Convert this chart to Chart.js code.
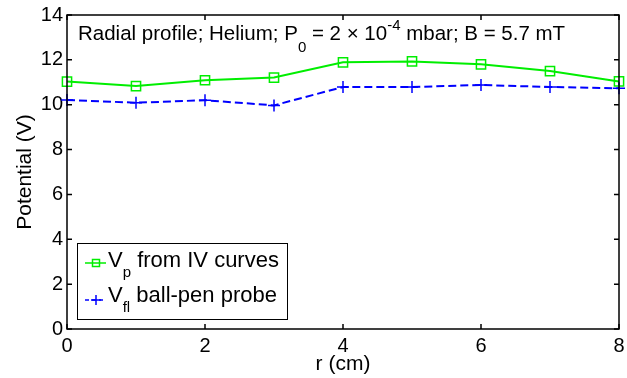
<!DOCTYPE html>
<html><head><meta charset="utf-8">
<script src="https://cdn.jsdelivr.net/npm/chart.js@4/dist/chart.umd.min.js"></script>
<style>html,body{margin:0;padding:0;background:#fff}#wrap{width:627px;height:378px}</style>
</head><body><div id="wrap"><canvas id="c" width="627" height="378"></canvas></div>
<script>
const rValues = [0, 1, 2, 3, 4, 5, 6, 7, 8];
const vpValues = [11.03, 10.83, 11.09, 11.21, 11.89, 11.93, 11.80, 11.50, 11.04];
const vflValues = [10.21, 10.09, 10.20, 9.97, 10.79, 10.79, 10.88, 10.79, 10.73];
const xTicks = [0, 2, 4, 6, 8];
const yTicks = [0, 2, 4, 6, 8, 10, 12, 14];
const FONT = "'Liberation Sans', Arial, sans-serif";

const framePlugin = {
  id: 'frame',
  afterDraw(chart) {
    const ctx = chart.ctx, a = chart.chartArea;
    const xs = chart.scales.x, ys = chart.scales.y;
    ctx.save();
    ctx.strokeStyle = '#000'; ctx.lineWidth = 1.5;
    ctx.strokeRect(a.left, a.top, a.right - a.left, a.bottom - a.top);
    ctx.beginPath();
    const L = 5;
    xTicks.forEach(v => { const p = xs.getPixelForValue(v);
      ctx.moveTo(p, a.bottom); ctx.lineTo(p, a.bottom - L);
      ctx.moveTo(p, a.top); ctx.lineTo(p, a.top + L); });
    yTicks.forEach(v => { const p = ys.getPixelForValue(v);
      ctx.moveTo(a.left, p); ctx.lineTo(a.left + L, p);
      ctx.moveTo(a.right, p); ctx.lineTo(a.right - L, p); });
    ctx.stroke();

    // annotation title
    ctx.fillStyle = '#000';
    ctx.textBaseline = 'alphabetic';
    const big = '20.5px ' + FONT, small = '15px ' + FONT;
    let x = 78; const y = 40;
    const seg = (t, f, dy) => { ctx.font = f; ctx.fillText(t, x, y + dy); x += ctx.measureText(t).width; };
    seg('Radial profile; Helium; P', big, 0);
    seg('0', small, 12);
    seg(' = 2 \u00d7 10', big, 0);
    seg('-4', small, -10);
    seg(' mbar; B = 5.7 mT', big, 0);

    // legend
    const lx = 77, ly = 243, lw = 210, lh = 76;
    ctx.fillStyle = '#fff';
    ctx.fillRect(lx, ly, lw, lh);
    ctx.strokeStyle = '#000'; ctx.lineWidth = 1;
    ctx.strokeRect(lx + 0.5, ly + 0.5, lw, lh);
    const rows = [
      {y: 263, base: 267, color: '#00ee00', dash: [], sub: 'p', text: ' from IV curves', marker: 'sq'},
      {y: 300, base: 302, color: '#0000ff', dash: [4, 3], sub: 'fl', text: ' ball-pen probe', marker: 'plus'}
    ];
    rows.forEach(r => {
      ctx.strokeStyle = r.color; ctx.lineWidth = 1.5; ctx.setLineDash(r.dash);
      ctx.beginPath(); ctx.moveTo(85, r.y); ctx.lineTo(106, r.y); ctx.stroke();
      ctx.setLineDash([]);
      ctx.beginPath();
      if (r.marker === 'sq') { ctx.rect(92.5, r.y - 3.5, 7, 7); }
      else { ctx.moveTo(91, r.y); ctx.lineTo(101, r.y); ctx.moveTo(96, r.y - 5); ctx.lineTo(96, r.y + 5); }
      ctx.stroke();
      ctx.fillStyle = '#000';
      let tx = 108;
      ctx.font = '22px ' + FONT; ctx.fillText('V', tx, r.base); tx += ctx.measureText('V').width;
      ctx.font = '15px ' + FONT; ctx.fillText(r.sub, tx, r.base + 10); tx += ctx.measureText(r.sub).width;
      ctx.font = '22px ' + FONT; ctx.fillText(r.text, tx, r.base);
    });
    ctx.restore();
  }
};

new Chart(document.getElementById('c'), {
  type: 'line',
  data: {
    datasets: [
      { label: 'Vp from IV curves', data: rValues.map((r, i) => ({x: r, y: vpValues[i]})),
        borderColor: '#00ee00', backgroundColor: 'rgba(0,0,0,0)', borderWidth: 2,
        pointStyle: 'rect', pointRadius: 6.5, pointBorderWidth: 1.5, pointBorderColor: '#00ee00',
        pointBackgroundColor: 'rgba(0,0,0,0)', tension: 0, clip: false },
      { label: 'Vfl ball-pen probe', data: rValues.map((r, i) => ({x: r, y: vflValues[i]})),
        borderColor: '#0000ff', backgroundColor: 'rgba(0,0,0,0)', borderWidth: 2, borderDash: [8, 4],
        pointStyle: 'cross', pointRadius: 6, pointBorderWidth: 1.5, pointBorderColor: '#0000ff',
        tension: 0, clip: false }
    ]
  },
  options: {
    responsive: false, animation: false, devicePixelRatio: 1,
    layout: { padding: { top: 15, right: 4, left: 0, bottom: 0 } },
    plugins: { legend: { display: false }, tooltip: { enabled: false } },
    scales: {
      x: { type: 'linear', min: 0, max: 8,
        afterFit(s) { s.height = 49; s.paddingLeft = 0; s.paddingRight = 0; },
        afterBuildTicks(s) { s.ticks = xTicks.map(v => ({value: v})); },
        grid: { display: false, drawTicks: false }, border: { display: false },
        ticks: { color: '#000', font: { family: FONT, size: 20 }, padding: 5, maxRotation: 0 },
        title: { display: true, text: 'r (cm)', color: '#000', font: { family: FONT, size: 21 }, padding: { top: 0, bottom: 1 } } },
      y: { type: 'linear', min: 0, max: 14,
        afterFit(s) { s.width = 67; s.paddingTop = 0; s.paddingBottom = 0; },
        afterBuildTicks(s) { s.ticks = yTicks.map(v => ({value: v})); },
        grid: { display: false, drawTicks: false }, border: { display: false },
        ticks: { color: '#000', font: { family: FONT, size: 20 }, padding: 4 },
        title: { display: true, text: 'Potential (V)', color: '#000', font: { family: FONT, size: 21 }, padding: { top: 13, bottom: 0 } } }
    }
  },
  plugins: [framePlugin]
});
</script></body></html>
